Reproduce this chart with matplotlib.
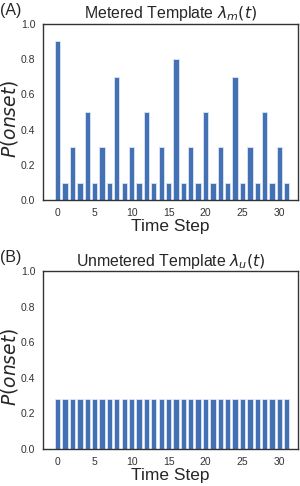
import matplotlib.pyplot as plt
import numpy as np
import seaborn as sns

sns.set_style("white")
plt.rcParams['font.family'] = ['Liberation Sans', 'DejaVu Sans']
plt.rcParams['mathtext.fontset'] = 'dejavusans'

steps = np.arange(32)
metered = [0.9, 0.1, 0.3, 0.1, 0.5, 0.1, 0.3, 0.1,
           0.7, 0.1, 0.3, 0.1, 0.5, 0.1, 0.3, 0.1,
           0.8, 0.1, 0.3, 0.1, 0.5, 0.1, 0.3, 0.1,
           0.7, 0.1, 0.3, 0.1, 0.5, 0.1, 0.3, 0.1]
unmetered = [0.28] * 32

panels = [
    ("(A)", r"Metered Template $\lambda_m(t)$", metered),
    ("(B)", r"Unmetered Template $\lambda_u(t)$", unmetered),
]

fig = plt.figure(figsize=(3.0, 4.86), dpi=100)
# axes boxes in figure fractions (left, bottom, width, height)
boxes = [(0.143, 0.588, 0.85, 0.363), (0.143, 0.076, 0.85, 0.366)]

for (tag, title, vals), box in zip(panels, boxes):
    ax = fig.add_axes(box)
    ax.bar(steps, vals, width=0.72, color="#4470B4", edgecolor="#DCE6F4", linewidth=0.6)
    ax.set_xlim(-2, 32.5)
    ax.set_ylim(0, 1.0)
    ax.set_xticks([0, 5, 10, 15, 20, 25, 30])
    ax.set_yticks([0.0, 0.2, 0.4, 0.6, 0.8, 1.0])
    ax.tick_params(labelsize=7.5, colors="#333333", length=0, pad=5.5)
    ax.set_title(title, fontsize=11.4, pad=4)
    ax.set_xlabel("Time Step", fontsize=12.5, labelpad=1)
    ax.set_ylabel(r"$P(onset)$", fontsize=13.5, labelpad=0)
    ax.yaxis.set_label_coords(-0.088, 0.46)
    for s in ax.spines.values():
        s.set_color("#333333")
        s.set_linewidth(1.0)
    fig.text(0.0, box[1] + box[3] + 0.012, tag, fontsize=11.5, ha="left", va="bottom")

fig.savefig("out.png", dpi=100)
